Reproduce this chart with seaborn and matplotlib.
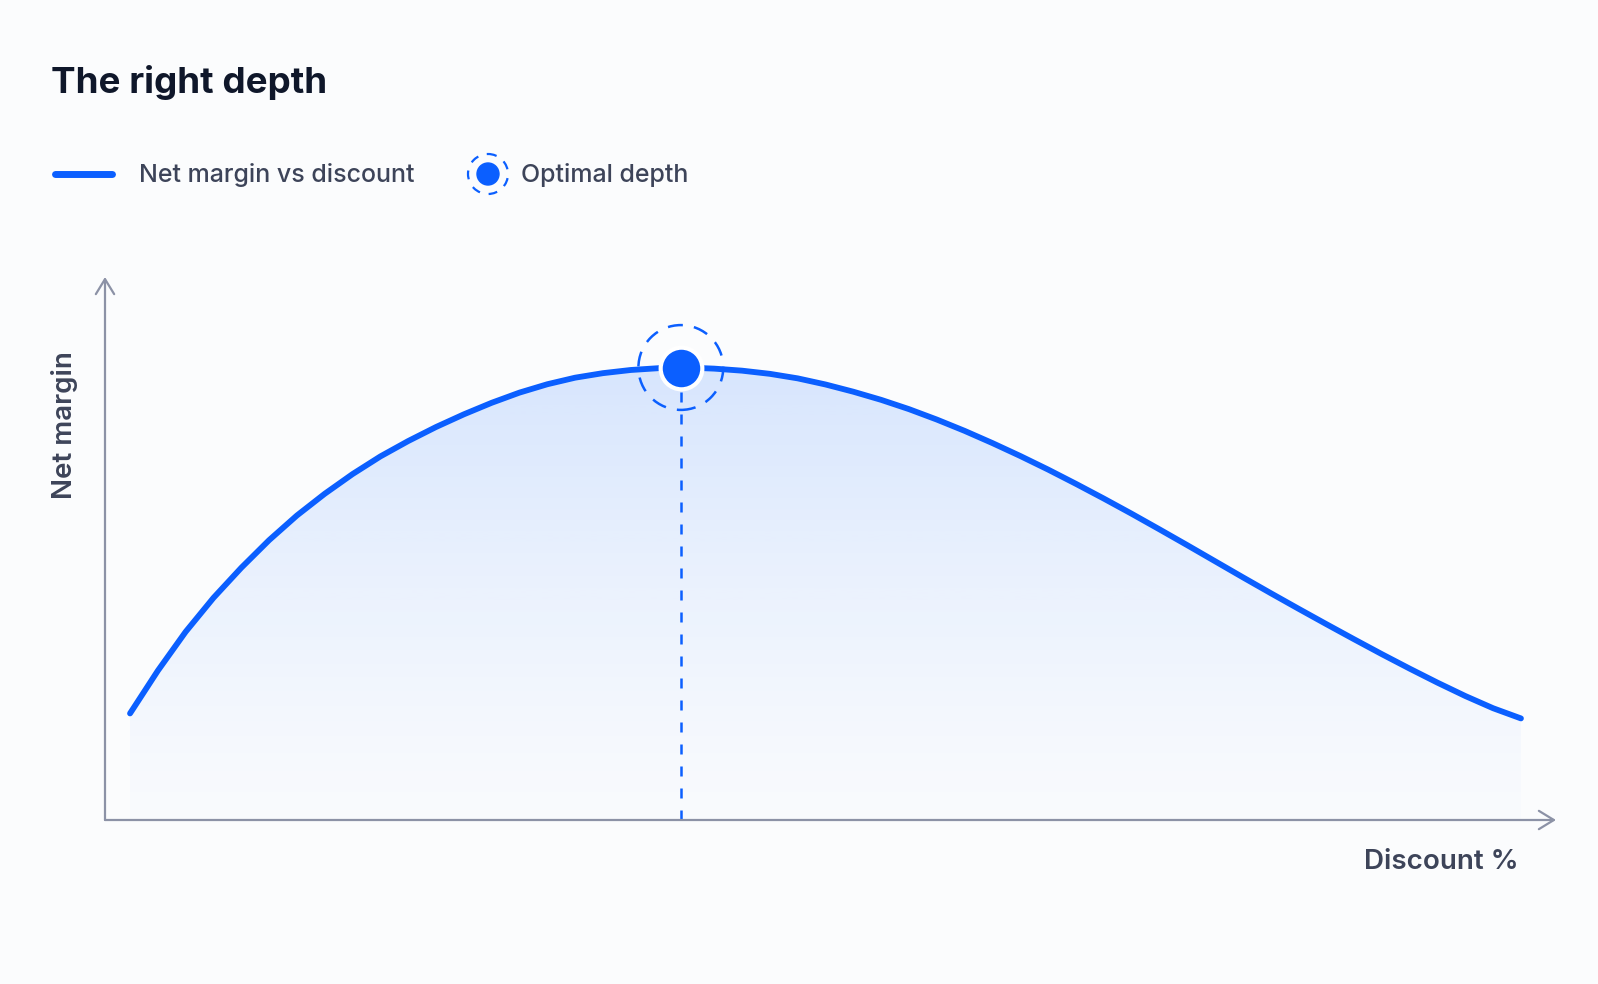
import numpy as np
import pandas as pd
import seaborn as sns
import matplotlib.pyplot as plt
from matplotlib.patches import Circle

# values (discount %, net margin, arbitrary units)
discount = list(range(0, 51))
net_margin = [4.71, 6.60, 8.32, 9.82, 11.15, 12.37, 13.46, 14.42, 15.29, 16.07,
              16.75, 17.37, 17.93, 18.44, 18.89, 19.26, 19.55, 19.75, 19.89, 19.97,
              20.00, 19.95, 19.86, 19.72, 19.52, 19.25, 18.93, 18.57, 18.16, 17.70,
              17.20, 16.66, 16.09, 15.49, 14.86, 14.21, 13.54, 12.85, 12.15, 11.44,
              10.73, 10.03, 9.34, 8.66, 7.99, 7.33, 6.69, 6.07, 5.48, 4.94, 4.49]
optimal_discount = 19.8
optimal_margin = 20.0

title = "The right depth"
series_label = "Net margin vs discount"
optimal_label = "Optimal depth"
x_label = "Discount %"
y_label = "Net margin"

blue = "#0b5fff"
axis_gray = "#8c92a6"
text_gray = "#3d4459"
bg = "#fbfcfd"

sns.set_theme(style="white")
plt.rcParams["font.family"] = ["Inter", "DejaVu Sans"]

df = pd.DataFrame({"discount": discount, "margin": net_margin})

fig = plt.figure(figsize=(15.98, 9.84), dpi=100, facecolor=bg)
ax = fig.add_axes([105 / 1598, 164 / 984, 1451 / 1598, 543 / 984])
ax.set_facecolor("none")
ax.set_xlim(-0.9, 51.26)
ax.set_ylim(0, 24.0)

# gradient fill under the curve
poly = ax.fill_between(df["discount"], df["margin"], 0, color="none", lw=0)
grad = np.linspace(0.0, 1.0, 256)
rgba = np.zeros((256, 1, 4))
rgba[..., 0] = 0.05
rgba[..., 1] = 0.40
rgba[..., 2] = 1.0
rgba[:, 0, 3] = 0.012 + 0.14 * grad ** 1.3
img = ax.imshow(rgba, extent=[min(discount), max(discount), 0, optimal_margin],
                origin="lower", aspect="auto", zorder=1, interpolation="bilinear")
img.set_clip_path(poly.get_paths()[0], transform=ax.transData)

sns.lineplot(data=df, x="discount", y="margin", ax=ax, color=blue, lw=4.2,
             solid_capstyle="round", solid_joinstyle="round", zorder=3)

# dashed drop line and optimal marker
ax.plot([optimal_discount, optimal_discount], [0, optimal_margin], color=blue,
        lw=1.8, ls=(0, (4, 4.8)), zorder=2)
ax.scatter([optimal_discount], [optimal_margin], s=3730, facecolors="none",
           edgecolors=blue, linewidths=1.8, linestyle=(0, (6, 4.5)), zorder=4)
ax.scatter([optimal_discount], [optimal_margin], s=900, color=blue,
           edgecolors="white", linewidths=3, zorder=5)

# axes with arrows
for s in ax.spines.values():
    s.set_visible(False)
ax.set_xticks([])
ax.set_yticks([])
arrow = dict(arrowstyle="->,head_length=0.9,head_width=0.55", color=axis_gray,
             lw=1.6, shrinkA=0, shrinkB=0)
ax.annotate("", xy=(1, 0), xytext=(0, 0), xycoords="axes fraction", arrowprops=arrow)
ax.annotate("", xy=(0, 1), xytext=(0, 0), xycoords="axes fraction", arrowprops=arrow)

ax.set_xlabel(x_label, fontsize=20, color=text_gray, fontweight="semibold",
              ha="right", va="center")
ax.xaxis.set_label_coords(0.9745, -0.0773)
ax.set_ylabel(y_label, fontsize=20, color=text_gray, fontweight="semibold",
              va="center")
ax.yaxis.set_label_coords(-0.0276, 0.727)

# title and legend in pixel coordinates
ov = fig.add_axes([0, 0, 1, 1], zorder=10)
ov.set_xlim(0, 1598)
ov.set_ylim(984, 0)
ov.axis("off")
ov.set_facecolor("none")
ov.text(51, 93, title, fontsize=26.5, fontweight="bold", color="#0f172a", va="baseline")
ov.plot([55, 112], [174, 174], color=blue, lw=5, solid_capstyle="round")
ov.text(139, 175, series_label, fontsize=18, color=text_gray, va="center",
        fontweight="medium")
ov.add_patch(Circle((488, 174), 20, fill=False, ec=blue, lw=1.6, ls=(0, (4, 4))))
ov.add_patch(Circle((488, 174), 11, color=blue))
ov.text(521, 175, optimal_label, fontsize=18, color=text_gray, va="center",
        fontweight="medium")

fig.savefig("out.png", dpi=100, facecolor=bg)
